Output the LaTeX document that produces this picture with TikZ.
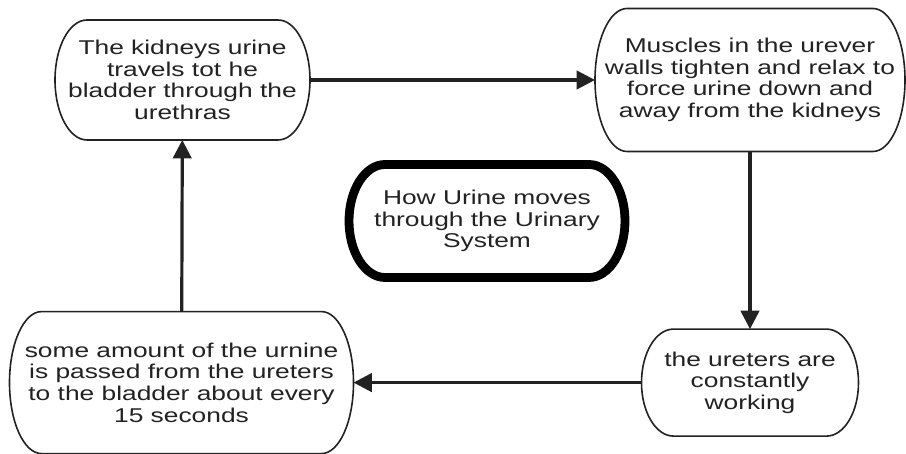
\documentclass[tikz,border=0pt]{standalone}
\usepackage{fontspec}
\setmainfont{Liberation Sans}[FakeStretch=1.32]
\usetikzlibrary{arrows.meta,positioning,calc}
\definecolor{inkgray}{HTML}{222222}
\definecolor{shadowgray}{HTML}{CFCFCF}
\pgfdeclarelayer{background}
\pgfsetlayers{background,main}
\tikzset{
  font=\fontsize{14.2}{15.4}\selectfont,
  stage/.style={
    rectangle,
    align=center,
    text=inkgray,
    inner sep=1mm,
    outer sep=0pt
  },
  outline/.style={line width=.4mm, draw=inkgray},
  flow/.style={-{Triangle[length=4.6mm, width=4.6mm]}, line width=.8mm, draw=inkgray}
}
% capsule with half-ellipse ends: node name, end radius
\newcommand{\capsulepath}[2]{%
  let \p1=(#1.north east), \p2=(#1.south west), \n1={(\y1-\y2)/2} in
  (\x2+#2,\y1) -- (\x1-#2,\y1)
  arc[start angle=90, end angle=-90, x radius=#2, y radius=\n1]
  -- (\x2+#2,\y2)
  arc[start angle=270, end angle=90, x radius=#2, y radius=\n1]
  -- cycle}

\begin{document}
\begin{tikzpicture}
  \useasboundingbox (0,0) rectangle (226.5mm,113.5mm);

  \node[stage, minimum width=63.75mm, minimum height=30mm] (kidney)
    at (45.625mm,93.5mm)
    {The kidneys urine\\travels tot he\\bladder through the\\urethras};
  \node[stage, right=71.25mm of kidney, minimum width=77.5mm,
        minimum height=35.75mm] (muscle)
    {Muscles in the urever\\walls tighten and relax to\\force urine down and\\away from the kidneys};
  \node[stage, below=44.4mm of muscle, minimum width=54.25mm,
        minimum height=26.75mm] (ureter)
    {the ureters are\\constantly\\working};
  \node[stage, left=72mm of ureter, minimum width=86mm,
        minimum height=35.5mm] (bladder)
    {some amount of the urnine\\is passed from the ureters\\to the bladder about every\\15 seconds};

  \node[stage, minimum width=69mm, minimum height=28.25mm] (title)
    at (121.75mm,58.25mm)
    {How Urine moves\\through the Urinary\\System};

  % outlines and shadows
  \foreach \stagename in {kidney,muscle,ureter,bladder} {
    \begin{pgfonlayer}{background}
      \fill[shadowgray, shift={(.9mm,-.9mm)}] \capsulepath{\stagename}{8mm};
      \fill[white] \capsulepath{\stagename}{8mm};
    \end{pgfonlayer}
    \draw[outline] \capsulepath{\stagename}{8mm};
  }
  \draw[line width=2.2mm, draw=black] \capsulepath{title}{9mm};

  \draw[flow] (kidney) -- (muscle);
  \draw[flow] (muscle) -- (ureter);
  \draw[flow] (ureter) -- (bladder);
  \draw[flow] (bladder) -- (kidney);
\end{tikzpicture}
\end{document}
